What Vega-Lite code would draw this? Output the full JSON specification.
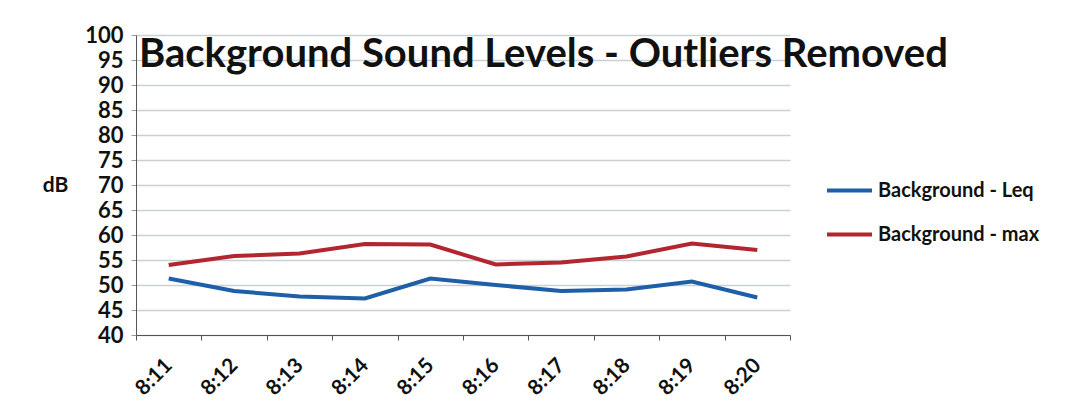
{
  "$schema": "https://vega.github.io/schema/vega-lite/v6.json",
  "width": 654,
  "height": 300,
  "autosize": {"type": "none"},
  "padding": {"left": 136, "top": 35, "right": 279, "bottom": 79},
  "background": "white",
  "title": {
    "text": "Background Sound Levels - Outliers Removed",
    "anchor": "start",
    "frame": "group",
    "font": "Lato",
    "fontSize": 40,
    "fontWeight": "bold",
    "color": "#111111",
    "baseline": "alphabetic",
    "offset": 0,
    "limit": 1000,
    "dx": 3,
    "dy": 83
  },
  "data": {
    "values": [
      {"time": "8:11", "series": "Background - Leq", "dB": 51.3},
      {"time": "8:12", "series": "Background - Leq", "dB": 48.8},
      {"time": "8:13", "series": "Background - Leq", "dB": 47.7},
      {"time": "8:14", "series": "Background - Leq", "dB": 47.3},
      {"time": "8:15", "series": "Background - Leq", "dB": 51.3},
      {"time": "8:16", "series": "Background - Leq", "dB": 50.0},
      {"time": "8:17", "series": "Background - Leq", "dB": 48.8},
      {"time": "8:18", "series": "Background - Leq", "dB": 49.1},
      {"time": "8:19", "series": "Background - Leq", "dB": 50.7},
      {"time": "8:20", "series": "Background - Leq", "dB": 47.5},
      {"time": "8:11", "series": "Background - max", "dB": 54.0},
      {"time": "8:12", "series": "Background - max", "dB": 55.8},
      {"time": "8:13", "series": "Background - max", "dB": 56.3},
      {"time": "8:14", "series": "Background - max", "dB": 58.2},
      {"time": "8:15", "series": "Background - max", "dB": 58.1},
      {"time": "8:16", "series": "Background - max", "dB": 54.1},
      {"time": "8:17", "series": "Background - max", "dB": 54.5},
      {"time": "8:18", "series": "Background - max", "dB": 55.7},
      {"time": "8:19", "series": "Background - max", "dB": 58.3},
      {"time": "8:20", "series": "Background - max", "dB": 57.0}
    ]
  },
  "mark": {"type": "line", "strokeWidth": 4},
  "encoding": {
    "x": {
      "field": "time",
      "type": "ordinal",
      "bandPosition": 0.5,
      "scale": {"type": "band", "paddingInner": 0, "paddingOuter": 0},
      "axis": {
        "title": null,
        "tickBand": "extent",
        "labelAngle": -45,
        "labelAlign": "right",
        "labelBaseline": "middle",
        "labelPadding": 22,
        "labelFont": "Lato",
        "labelFontSize": 21,
        "labelFontWeight": "bold",
        "labelColor": "#111111",
        "domainColor": "#555555",
        "tickColor": "#555555",
        "tickSize": 5,
        "grid": false
      }
    },
    "y": {
      "field": "dB",
      "type": "quantitative",
      "scale": {"domain": [40, 100], "nice": false, "zero": false},
      "axis": {
        "title": "dB",
        "titleAngle": 0,
        "titleX": -81,
        "titleY": 150,
        "titleAlign": "center",
        "titleBaseline": "middle",
        "titleFont": "Lato",
        "titleFontSize": 21,
        "titleFontWeight": "bold",
        "titleColor": "#111111",
        "values": [40, 45, 50, 55, 60, 65, 70, 75, 80, 85, 90, 95, 100],
        "labelFont": "Lato",
        "labelFontSize": 22,
        "labelFontWeight": "bold",
        "labelColor": "#111111",
        "labelPadding": 8,
        "domainColor": "#555555",
        "tickColor": "#999999",
        "tickSize": 5,
        "gridColor": "#c9d1d4",
        "gridWidth": 1.5
      }
    },
    "color": {
      "field": "series",
      "type": "nominal",
      "scale": {"domain": ["Background - Leq", "Background - max"], "range": ["#1f5fa8", "#b3262f"]},
      "legend": {
        "title": null,
        "orient": "none",
        "legendX": 689,
        "legendY": 131,
        "symbolType": "stroke",
        "symbolSize": 2025,
        "symbolStrokeWidth": 4,
        "rowPadding": 9,
        "labelOffset": 4,
        "labelLimit": 300,
        "labelFont": "Lato",
        "labelFontSize": 20,
        "labelFontWeight": "bold",
        "labelColor": "#111111"
      }
    }
  },
  "config": {"view": {"stroke": null}}
}
